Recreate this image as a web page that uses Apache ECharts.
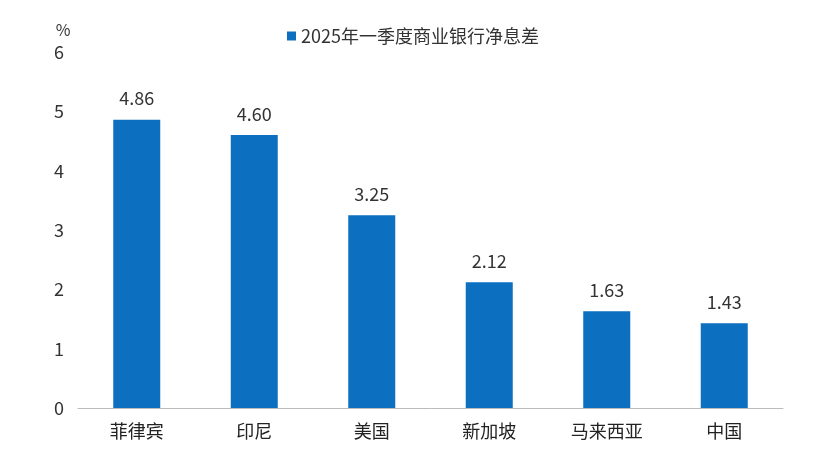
<!DOCTYPE html>
<html><head><meta charset="utf-8">
<script src="https://cdn.jsdelivr.net/npm/echarts@6/dist/echarts.min.js"></script>
<style>html,body{margin:0;background:#fff}#c{width:826px;height:456px}</style>
</head><body><div id="c"></div>
<script>
const categories = ['菲律宾', '印尼', '美国', '新加坡', '马来西亚', '中国'];
const values = [4.86, 4.60, 3.25, 2.12, 1.63, 1.43];
const seriesName = '2025年一季度商业银行净息差';

const chart = echarts.init(document.getElementById('c'));
const font = '"Noto Sans CJK SC", "Noto Sans", sans-serif';
chart.setOption({
    textStyle: { fontFamily: font },
    legend: {
        data: [seriesName], top: 22, left: 'center',
        icon: 'rect', itemWidth: 9, itemHeight: 9,
        textStyle: { fontSize: 18, color: '#333' }
    },
    grid: { left: 78, right: 43, top: 52, bottom: 48 },
    xAxis: {
        type: 'category', data: categories,
        axisLine: { lineStyle: { color: '#bbb' } }, axisTick: { show: false },
        axisLabel: { fontSize: 18, color: '#222', margin: 14 }
    },
    yAxis: {
        type: 'value', min: 0, max: 6, interval: 1,
        name: '%', nameGap: 14, nameTextStyle: { fontSize: 16, color: '#333', padding: [0, 30, 0, 0] },
        splitLine: { show: false },
        axisLabel: { fontSize: 18, color: '#333', margin: 14 }
    },
    series: [{
        name: seriesName, type: 'bar', data: values, barWidth: 47,
        itemStyle: { color: '#0d6fc0' },
        label: { show: true, position: 'top', distance: 12, fontSize: 18, color: '#333',
                 formatter: p => p.value.toFixed(2) }
    }]
});
</script></body></html>
